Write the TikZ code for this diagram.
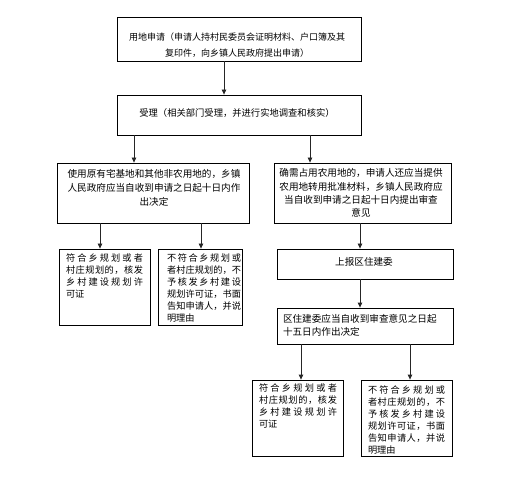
\documentclass[tikz,border=0pt]{standalone}
\usepackage{fontspec}
\setmainfont{Noto Sans CJK SC}
\usetikzlibrary{arrows.meta}
\newcommand\jl[2]{\makebox[#1][s]{\jloop#2\relax}}
\def\jloop#1#2{#1\ifx\relax#2\else\hfill\expandafter\jloop\expandafter#2\fi}
\begin{document}
\begin{tikzpicture}[x=1pt,y=-1pt,
  box/.style={draw=black,line width=0.8pt,rectangle,inner sep=0pt},
  txt/.style={inner sep=0pt},
  big/.style={font=\fontsize{9.6pt}{14pt}\selectfont},
  small/.style={font=\fontsize{9.2pt}{12pt}\selectfont,align=left},
  arr/.style={line width=0.8pt,draw=black!85,-{Triangle[width=4.5pt,length=5pt]}}]
\useasboundingbox (0,0) rectangle (514,481);
% boxes
\node[box,minimum width=244pt,minimum height=44pt] (b1) at (239,39) {};
\node[box,minimum width=244pt,minimum height=40pt] (b2) at (239,115) {};
\node[box,minimum width=192pt,minimum height=60pt] (b3) at (153,193) {};
\node[box,minimum width=177pt,minimum height=60pt] (b4) at (362.5,193) {};
\node[box,minimum width=91pt,minimum height=76pt] (b5) at (104.5,287) {};
\node[box,minimum width=84pt,minimum height=76pt] (b6) at (200,287) {};
\node[box,minimum width=176pt,minimum height=30pt] (b7) at (365,264) {};
\node[box,minimum width=176pt,minimum height=36pt] (b8) at (365,326) {};
\node[box,minimum width=91pt,minimum height=76pt] (b9) at (297.5,418) {};
\node[box,minimum width=91pt,minimum height=76pt] (b10) at (406.5,418) {};
% texts
\node[txt,font=\fontsize{9.0pt}{16pt}\selectfont,text width=240pt,align=center] (t1) at (237,45)
  {用地申请（申请人持村民委员会证明材料、户口簿及其\\复印件，向乡镇人民政府提出申请）};
\node[txt,font=\fontsize{9.3pt}{14pt}\selectfont] (t2) at (237,113) {受理（相关部门受理，并进行实地调查和核实）};
\node[txt,big,text width=186pt,align=center] (t3) at (154,188)
  {使用原有宅基地和其他非农用地的，乡镇\\人民政府应当自收到申请之日起十日内作\\出决定};
\node[txt,font=\fontsize{9.6pt}{13.3pt}\selectfont,text width=172pt,align=center] (t4) at (361,193)
  {确需占用农用地的，申请人还应当提供\\农用地转用批准材料，乡镇人民政府应\\当自收到申请之日起十日内提出审查\\意见};
\node[txt,small,text width=77pt] (t5) at (104.5,276)
  {\jl{77pt}{符合乡规划或者}\\\jl{77pt}{村庄规划的，核发}\\\jl{77pt}{乡村建设规划许}\\可证};
\node[txt,small,text width=74pt] (t6) at (204,288)
  {\jl{74pt}{不符合乡规划或}\\\jl{74pt}{者村庄规划的，不}\\\jl{74pt}{予核发乡村建设}\\\jl{74pt}{规划许可证，书面}\\\jl{74pt}{告知申请人，并说}\\明理由};
\node[txt,big] (t7) at (364,262) {上报区住建委};
\node[txt,font=\fontsize{9.6pt}{13pt}\selectfont,text width=168pt,align=left] (t8) at (367,325.5)
  {区住建委应当自收到审查意见之日起\\十五日内作出决定};
\node[txt,small,text width=78pt] (t9) at (298,406)
  {\jl{78pt}{符合乡规划或者}\\\jl{78pt}{村庄规划的，核发}\\\jl{78pt}{乡村建设规划许}\\可证};
\node[txt,small,text width=77pt] (t10) at (406.5,420)
  {\jl{77pt}{不符合乡规划或}\\\jl{77pt}{者村庄规划的，不}\\\jl{77pt}{予核发乡村建设}\\\jl{77pt}{规划许可证，书面}\\\jl{77pt}{告知申请人，并说}\\明理由};
% arrow columns
\coordinate (x1) at (224,0);
\coordinate (x2) at (134,0);
\coordinate (x3) at (310,0);
\coordinate (x4) at (100,0);
\coordinate (x5) at (201,0);
\coordinate (x6) at (360,0);
\coordinate (x8) at (301,0);
\coordinate (x9) at (410,0);
\draw[arr] (b1.south -| x1) -- (b2.north -| x1);
\draw[arr] (b2.south -| x2) -- (b3.north -| x2);
\draw[arr] (b2.south -| x3) -- (b4.north -| x3);
\draw[arr] (b3.south -| x4) -- (b5.north -| x4);
\draw[arr] (b3.south -| x5) -- (b6.north -| x5);
\draw[arr] (b4.south -| x6) -- (b7.north -| x6);
\draw[arr] (b7.south -| x6) -- (b8.north -| x6);
\draw[arr] (b8.south -| x8) -- (b9.north -| x8);
\draw[arr] (b8.south -| x9) -- (b10.north -| x9);
\end{tikzpicture}
\end{document}
